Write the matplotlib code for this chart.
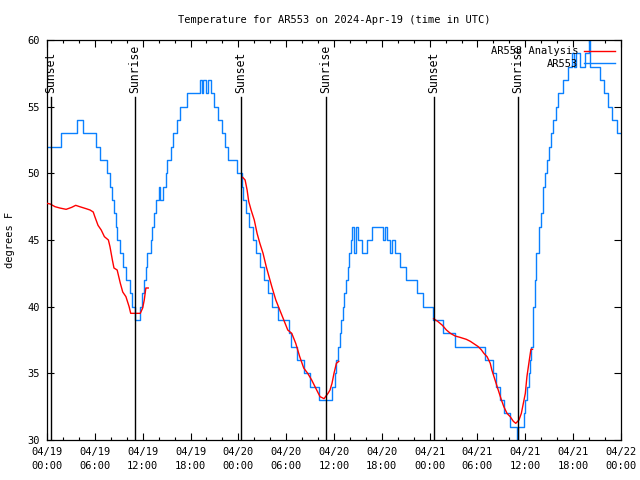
import numpy as np
import matplotlib
matplotlib.use('Agg')
import matplotlib.pyplot as plt
from matplotlib.ticker import MultipleLocator, FixedLocator

# hours since 2024-04-19 00:00 UTC
obs_hours = [0.0, 1.8, 3.8, 4.5, 6.2, 6.7, 7.5, 7.9, 8.2, 8.4, 8.6, 8.8, 9.1, 9.5, 9.9,
             10.4, 10.7, 11.1, 11.7, 11.9, 12.2, 12.4, 12.6, 13.05, 13.2, 13.4, 13.7,
             14.0, 14.2, 14.5, 14.9, 15.1, 15.5, 15.8, 16.3, 16.7, 17.6, 19.2, 19.4,
             19.6, 20.0, 20.2, 20.6, 21.0, 21.5, 21.9, 22.3, 22.7, 23.8, 24.4, 24.6,
             25.0, 25.3, 25.8, 26.2, 26.7, 27.2, 27.7, 28.2, 29.0, 30.4, 30.6, 31.4,
             32.2, 33.0, 34.1, 35.8, 36.1, 36.3, 36.5, 36.7, 36.9, 37.1, 37.3, 37.5,
             37.7, 37.9, 38.1, 38.3, 38.5, 38.7, 39.0, 39.5, 40.1, 40.8, 42.2, 42.4,
             42.6, 43.0, 43.3, 43.6, 44.3, 45.0, 46.4, 47.2, 48.4, 49.7, 51.2, 55.0,
             55.9, 56.3, 56.8, 57.3, 58.1, 58.9, 59.1, 59.8, 60.0, 60.2, 60.4, 60.6,
             60.7, 60.9, 61.0, 61.2, 61.4, 61.7, 62.0, 62.2, 62.5, 62.7, 63.0, 63.2,
             63.5, 63.8, 64.1, 64.7, 65.3, 65.8, 66.1, 66.4, 66.9, 67.5, 67.95, 68.05,
             69.4, 69.9, 70.4, 70.9, 71.5, 72.0]
obs_temps = [52, 53, 54, 53, 52, 51, 50, 49, 48, 47, 46, 45, 44, 43, 42,
             41, 40, 39, 40, 41, 42, 43, 44, 45, 46, 47, 48,
             49, 48, 49, 50, 51, 52, 53, 54, 55, 56, 57, 56,
             57, 56, 57, 56, 55, 54, 53, 52, 51, 50, 49, 48,
             47, 46, 45, 44, 43, 42, 41, 40, 39, 38, 37, 36,
             35, 34, 33, 34, 35, 36, 37, 38, 39, 40, 41, 42,
             43, 44, 45, 46, 44, 46, 45, 44, 45, 46, 45, 46,
             45, 44, 45, 44, 43, 42, 41, 40, 39, 38, 37, 36,
             35, 34, 33, 32, 31, 30, 31, 32, 33, 34, 35, 36,
             37, 38, 40, 42, 44, 46, 47, 49, 50, 51, 52, 53,
             54, 55, 56, 57, 58, 59, 58, 59, 58, 59, 60, 58,
             57, 56, 55, 54, 53, 53]

ana_hours = [0.0, 0.4, 1.0, 1.6, 2.4, 3.1, 3.6, 4.1, 4.9, 5.4, 5.8, 6.0, 6.4, 6.8,
             7.2, 7.7, 7.9, 8.2, 8.4, 8.8, 9.2, 9.5, 9.9, 10.3, 10.5, 11.7, 12.0,
             12.2, 12.4, 12.7, np.nan,
             24.55, 24.85, 25.1, 25.3, 25.6, 26.0, 26.35, 26.7, 27.1, 27.5, 27.85,
             28.2, 28.7, 29.2, 29.7, 30.2, 30.7, 31.2, 31.7, 32.2, 32.7, 33.2, 33.7,
             34.25, 34.75, 35.25, 35.5, 35.75, 36.0, 36.3, 36.6, np.nan,
             48.5, 49.0, 49.6, 50.1, 50.6, 51.2, 51.8, 52.6, 53.1, 53.6, 54.1, 54.5,
             54.8, 55.2, 55.6, 55.8, 56.2, 56.6, 57.0, 57.3, 57.7, 58.1, 58.5, 58.8,
             59.2, 59.5, 59.7, 60.0, 60.2, 60.5, 60.7, 60.9]
ana_temps = [47.75, 47.7, 47.5, 47.4, 47.3, 47.45, 47.6, 47.5, 47.35, 47.25, 47.1, 46.75,
             46.1, 45.75, 45.25, 45.0, 44.5, 43.5, 42.9, 42.75, 41.75, 41.1, 40.75,
             40.0, 39.5, 39.5, 39.9, 40.5, 41.4, 41.4, np.nan,
             49.7, 49.5, 48.75, 47.9, 47.25, 46.5, 45.5, 44.75, 44.0, 43.0, 42.25,
             41.5, 40.5, 39.75, 39.0, 38.25, 38.0, 37.25, 36.25, 35.4, 35.0, 34.5,
             33.9, 33.25, 33.1, 33.5, 33.75, 34.25, 35.0, 35.75, 35.9, np.nan,
             39.1, 38.9, 38.6, 38.25, 38.0, 37.8, 37.7, 37.55, 37.4, 37.2, 37.0,
             36.75, 36.5, 36.25, 35.75, 35.25, 34.5, 33.75, 33.0, 32.5, 32.0, 31.75,
             31.4, 31.25, 31.5, 32.0, 32.6, 33.5, 34.75, 36.0, 36.8, 36.8]

sun_hours = [0.45, 11.05, 24.35, 35.0, 48.55, 59.1]
sun_labels = ['Sunset', 'Sunrise', 'Sunset', 'Sunrise', 'Sunset', 'Sunrise']

tick_hours = list(range(0, 73, 6))
tick_labels = ['04/19\n00:00', '04/19\n06:00', '04/19\n12:00', '04/19\n18:00',
               '04/20\n00:00', '04/20\n06:00', '04/20\n12:00', '04/20\n18:00',
               '04/21\n00:00', '04/21\n06:00', '04/21\n12:00', '04/21\n18:00',
               '04/22\n00:00']

plt.rcParams['font.family'] = ['DejaVu Sans Mono']
plt.rcParams['font.size'] = 7

fig = plt.figure(figsize=(6.4, 4.8), dpi=100)
ax = fig.add_axes([47 / 640, 40 / 480, 574 / 640, 400 / 480])

ax.plot(ana_hours, ana_temps, color='#ff0000', lw=1.0, label='AR553 Analysis', zorder=3)
ax.plot(obs_hours, obs_temps, color='#0a80ff', lw=1.0, drawstyle='steps-post',
        label='AR553', zorder=2)

# sunrise / sunset markers
for h, lab in zip(sun_hours, sun_labels):
    ax.plot([h, h], [30, 55.7], color='black', lw=1.0, zorder=4)
    ax.text(h, 56.0, lab, rotation=90, ha='center', va='bottom', fontsize=8.3)

ax.set_xlim(0, 72)
ax.set_ylim(30, 60)
ax.xaxis.set_major_locator(FixedLocator(tick_hours))
ax.xaxis.set_minor_locator(MultipleLocator(2))
ax.set_xticklabels(tick_labels, linespacing=1.5)
ax.yaxis.set_major_locator(MultipleLocator(5))
ax.tick_params(which='both', direction='in', top=True, right=True, width=0.8,
               labelsize=7.5, pad=5)
ax.tick_params(which='major', length=5)
ax.tick_params(which='minor', length=2.5)
for s in ax.spines.values():
    s.set_linewidth(0.9)

ax.set_ylabel('degrees F', fontsize=7.5, labelpad=9)
ax.set_title('Temperature for AR553 on 2024-Apr-19 (time in UTC)', fontsize=7.5, pad=12)

ax.legend(loc='upper right', frameon=False, markerfirst=False, fontsize=7.5,
          handlelength=3.0, borderaxespad=0.2, labelspacing=0.25, handletextpad=0.5)

fig.savefig('out.png', dpi=100)
